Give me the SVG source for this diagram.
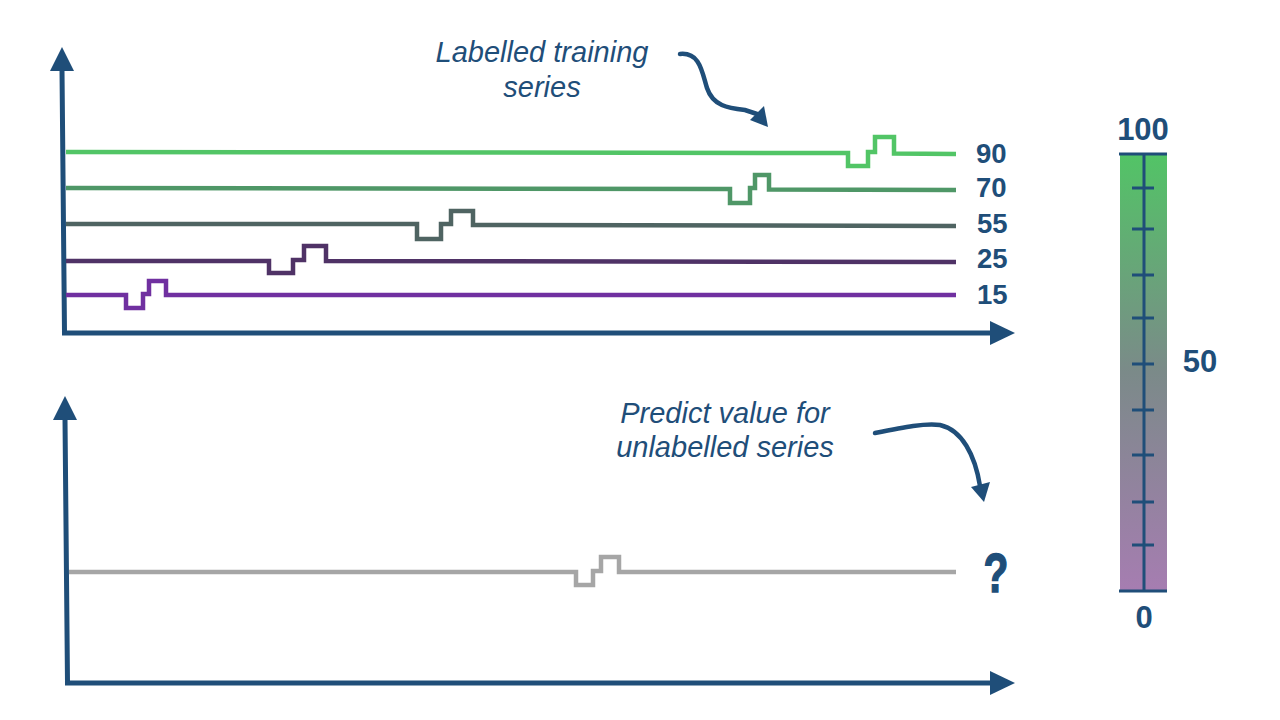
<svg xmlns="http://www.w3.org/2000/svg" width="1280" height="720" viewBox="0 0 1280 720">
<defs>
<linearGradient id="cb" x1="0" y1="0" x2="0" y2="1">
<stop offset="0" stop-color="#52C466"/>
<stop offset="0.5" stop-color="#7B8A89"/>
<stop offset="1" stop-color="#A67DB1"/>
</linearGradient>
<style>
.ax{stroke:#1F4E79;stroke-width:5;fill:none}
.ah{fill:#1F4E79}
.ser{fill:none;stroke-width:4.5;stroke-linejoin:miter;stroke-linecap:butt}
.lbl{font-family:"Liberation Sans",Arial,sans-serif;font-weight:bold;fill:#1F4E79}
.it{font-family:"Liberation Sans",Arial,sans-serif;font-style:italic;font-size:29px;fill:#1F4E79;text-anchor:middle}
.cur{fill:none;stroke:#1F4E79;stroke-width:4.5;stroke-linecap:round}
.tk{stroke:#1F4E79;stroke-width:3}
</style>
</defs>
<rect width="1280" height="720" fill="#FFFFFF"/>

<g id="top-axes">
<path class="ax" d="M62,70 L64.5,333 M62,333 L993,333"/>
<polygon class="ah" points="62,47 50,71 74,71"/>
<polygon class="ah" points="1015,333 990,321 990,345"/>
</g>

<g id="bottom-axes">
<path class="ax" d="M65,419 L67.5,683 M65,683 L993,683"/>
<polygon class="ah" points="65,396 53,420 77,420"/>
<polygon class="ah" points="1015,683 990,671 990,695"/>
</g>

<g id="series-90">
<path class="ser" stroke="#52C566" d="M66,152 L848,153 L848,166 L868,166 L868,152 L875,152 L875,137 L894,137 L894,153.5 L956,154"/>
<text class="lbl" font-size="27.5" x="976" y="163">90</text>
</g>
<g id="series-70">
<path class="ser" stroke="#4F9767" d="M66,188 L730,189 L730,203 L750,203 L750,188 L755,188 L755,175 L769,175 L769,189.5 L956,190"/>
<text class="lbl" font-size="27.5" x="976" y="197">70</text>
</g>
<g id="series-55">
<path class="ser" stroke="#4F6462" d="M66,224 L417,224 L417,239 L441,239 L441,224 L451,224 L451,211 L473,211 L473,225 L956,226"/>
<text class="lbl" font-size="27.5" x="977" y="233">55</text>
</g>
<g id="series-25">
<path class="ser" stroke="#4F3266" d="M66,261 L269,261 L269,273 L293,273 L293,260 L304,260 L304,246 L326,246 L326,261 L956,262"/>
<text class="lbl" font-size="27.5" x="977" y="268">25</text>
</g>
<g id="series-15">
<path class="ser" stroke="#7030A0" d="M66,295 L126,295 L126,308 L143,308 L143,294 L149,294 L149,281 L166,281 L166,295 L956,295"/>
<text class="lbl" font-size="27.5" x="977" y="304">15</text>
</g>

<g id="series-unlabelled">
<path class="ser" stroke="#A6A6A6" stroke-width="5" d="M69,572 L576,572 L576,585 L593,585 L593,571 L601,571 L601,557 L619,557 L619,572 L956,572"/>
<text class="lbl" font-size="55" stroke="#1F4E79" stroke-width="1.5" transform="translate(996,592) scale(0.74,1)" text-anchor="middle">?</text>
</g>

<g id="label-training">
<text class="it" x="542" y="62">Labelled training</text>
<text class="it" x="542" y="97">series</text>
</g>

<g id="label-predict">
<text class="it" x="725" y="423">Predict value for</text>
<text class="it" x="725" y="457">unlabelled series</text>
</g>

<g id="connectors">
<path class="cur" d="M680,54 C700,52 702,72 707,88 C713,106 728,108 745,110 L757,114"/>
<polygon class="ah" points="768,127 750,120 764,106"/>
<path class="cur" d="M875,433 C905,427 925,423 940,425 C962,430 975,455 980,486"/>
<polygon class="ah" points="984,502 971,487 990,482"/>
</g>

<g id="colorbar">
<rect x="1120" y="154" width="47" height="437" fill="url(#cb)"/>
<line class="tk" x1="1144" y1="154" x2="1144" y2="591" stroke-width="3.5"/>
<line class="tk" x1="1119" y1="154" x2="1167" y2="154" stroke-width="4"/>
<line class="tk" x1="1119" y1="591" x2="1167" y2="591" stroke-width="4"/>
<g>
<line class="tk" x1="1132" y1="188" x2="1154" y2="188"/>
<line class="tk" x1="1132" y1="229" x2="1154" y2="229"/>
<line class="tk" x1="1132" y1="275" x2="1154" y2="275"/>
<line class="tk" x1="1132" y1="318" x2="1154" y2="318"/>
<line class="tk" x1="1132" y1="364" x2="1154" y2="364"/>
<line class="tk" x1="1132" y1="410" x2="1154" y2="410"/>
<line class="tk" x1="1132" y1="455" x2="1154" y2="455"/>
<line class="tk" x1="1132" y1="502" x2="1154" y2="502"/>
<line class="tk" x1="1132" y1="545" x2="1154" y2="545"/>
</g>
<text class="lbl" font-size="31" x="1143" y="140" text-anchor="middle">100</text>
<text class="lbl" font-size="31" x="1200" y="372" text-anchor="middle">50</text>
<text class="lbl" font-size="31" x="1144" y="628" text-anchor="middle">0</text>
</g>
</svg>
